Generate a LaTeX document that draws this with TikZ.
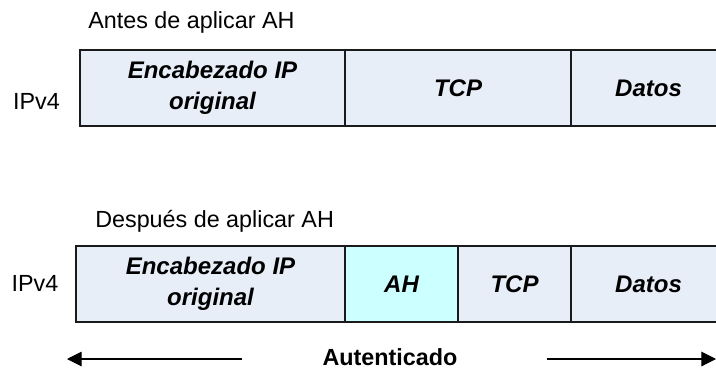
\documentclass[tikz,border=0pt]{standalone}
\usepackage{fontspec}
\setmainfont{Liberation Sans}
\usetikzlibrary{arrows.meta}
\definecolor{cellfill}{HTML}{E8EEF8}
\definecolor{ahfill}{HTML}{CCFFFF}
\definecolor{edge}{HTML}{1A1A1A}
\begin{document}
\begin{tikzpicture}[x=0.75pt,y=-0.75pt,
  cell/.style={draw=edge, line width=1.2pt, fill=cellfill, inner sep=0pt, outer sep=0pt,
    minimum height=57pt, align=center, font=\fontsize{18}{18}\selectfont\bfseries\itshape},
  plain/.style={inner sep=0pt, font=\fontsize{17.5}{21}\selectfont},
  arr/.style={line width=0.8pt, -{Triangle[length=11pt,width=11pt]}}]
\useasboundingbox (0,0) rectangle (716,369);
% titles
\node[plain, anchor=base west] (t1) at (88,28) {Antes de aplicar AH};
\node[plain, anchor=base west] (t2) at (95,227) {Después de aplicar AH};
\node[plain] (ip1) at (36.5,101) {IPv4};
\node[plain] (ip2) at (35,283) {IPv4};
% top packet
\node[cell, minimum width=198.75pt] (h1) at (212.5,88) {Encabezado IP\\[5pt]original};
\node[cell, minimum width=169.5pt] (tcp1) at (458,88) {TCP};
\node[cell, minimum width=116.25pt] (d1) at (648.5,88) {Datos};
% bottom packet
\node[cell, minimum width=201.75pt] (h2) at (210.5,284) {Encabezado IP\\[5pt]original};
\node[cell, fill=ahfill, minimum width=84.75pt] (ah) at (401.5,284) {AH};
\node[cell, minimum width=84.75pt] (tcp2) at (514.5,284) {TCP};
\node[cell, minimum width=116.25pt] (d2) at (648.5,284) {Datos};
% authenticated span
\node[inner sep=0pt, font=\fontsize{17.5}{21}\selectfont\bfseries] (auth) at (390,357) {Autenticado};
\coordinate (la) at (242,359);
\coordinate (lb) at (67,359);
\coordinate (ra) at (547,359);
\coordinate (rb) at (716,359);
\draw[arr] (la) -- (lb);
\draw[arr] (ra) -- (rb);
\end{tikzpicture}
\end{document}
